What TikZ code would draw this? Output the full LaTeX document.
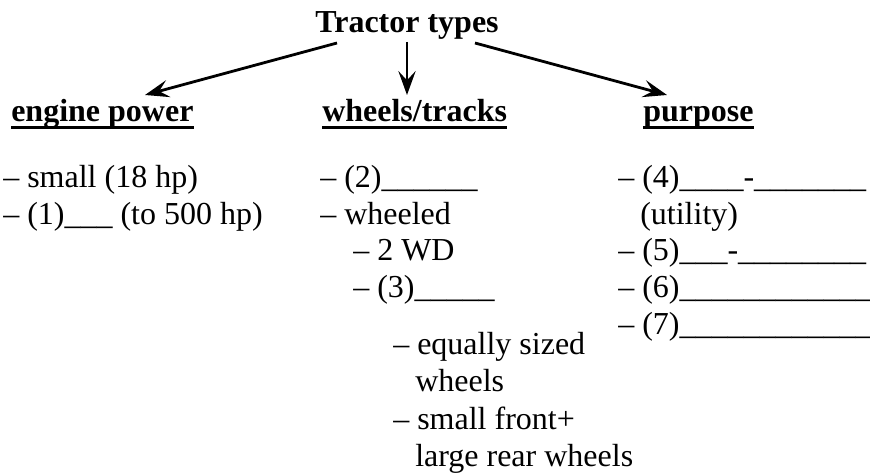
\documentclass[tikz,border=0pt]{standalone}
\usepackage{fontspec}
\setmainfont{Liberation Serif}
\usetikzlibrary{arrows.meta}
\tikzset{
    item/.style={anchor=base west, inner sep=0pt, font=\fontsize{24}{28}\selectfont}, % one line of a list
    heading/.style={anchor=base west, inner sep=0pt, font=\fontsize{24}{28}\selectfont\bfseries},
    uline/.style={line width=2.6pt}, % rule under the headings
}
\tikzstyle{arrow} = [line width=2.1pt, -{Stealth[length=18pt, width=13pt, inset=7pt]}]

\begin{document}
\begin{tikzpicture}[x=0.75pt, y=-0.75pt]
    \useasboundingbox (0,0) rectangle (870,473);

    \node[heading, anchor=base] (types) at (407,33) {Tractor types};
    \node[heading] (power) at (11,122) {engine power};
    \node[heading] (wheels) at (322,122) {wheels/tracks};
    \node[heading] (purpose) at (643,122) {purpose};
    \foreach \h in {power, wheels, purpose}
        \draw[uline] ([yshift=-4.1pt]\h.base west) -- ([yshift=-4.1pt]\h.base east);

    \draw[arrow] ([shift={(-70,10)}]types.base) -- ([shift={(134,-27)}]power.base west);
    \draw[arrow, line width=1.5pt] ([shift={(0,9)}]types.base) -- ([shift={(85,-27)}]wheels.base west);
    \draw[arrow] ([shift={(68,10)}]types.base) -- ([shift={(24,-27)}]purpose.base west);

    % the three lists
    \foreach \x/\y/\txt [count=\i] in {
        3/188/{-- small (18 hp)},
        3/225/{-- (1)\_\_\_ (to 500 hp)},
        320/188/{-- (2)\_\_\_\_\_\_},
        320/225/{-- wheeled},
        353/261/{-- 2 WD},
        353/298/{-- (3)\_\_\_\_\_},
        393/355/{-- equally sized},
        415/392/{wheels},
        393/429/{-- small front+},
        415/466/{large rear wheels},
        618/188/{-- (4)\_\_\_\_-\_\_\_\_\_\_\_},
        640/225/{(utility)},
        618/261/{-- (5)\_\_\_-\_\_\_\_\_\_\_\_},
        618/298/{-- (6)\_\_\_\_\_\_\_\_\_\_\_\_},
        618/335/{-- (7)\_\_\_\_\_\_\_\_\_\_\_\_}}
        \node[item] (item\i) at (\x,\y) {\txt};
\end{tikzpicture}
\end{document}
